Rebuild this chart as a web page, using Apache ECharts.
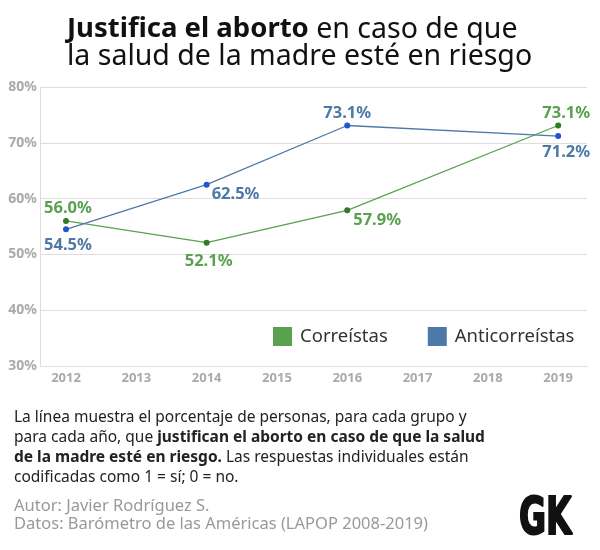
<!DOCTYPE html>
<html><head><meta charset="utf-8">
<script src="https://cdn.jsdelivr.net/npm/echarts@6/dist/echarts.min.js"></script>
<style>html,body{margin:0;padding:0;background:#fff}#c{width:600px;height:550px}</style>
</head><body><div id="c"></div>
<script>
const years = [2012, 2014, 2016, 2019];
const correistas = [56.0, 52.1, 57.9, 73.1];
const anticorreistas = [54.5, 62.5, 73.1, 71.2];
const xTickLabels = [2012, 2013, 2014, 2015, 2016, 2017, 2018, 2019];
const seriesNames = ['Correístas', 'Anticorreístas'];

const F = 'Noto Sans';
const green = '#59a14f', blue = '#4e79a7';
const labelPos = {
  c: [{position:'top', offset:[2,4]}, {position:'bottom', offset:[2,2]}, {position:'right', offset:[-2,10]}, {position:'top', offset:[8,4]}],
  a: [{position:'bottom', offset:[2,0]}, {position:'right', offset:[-3,10]}, {position:'top', offset:[0,4]}, {position:'bottom', offset:[8,0]}]
};
function mk(vals, pos) {
  return vals.map((v,i)=>({value:[years[i], v], label:Object.assign({show:true}, pos[i])}));
}
const chart = echarts.init(document.getElementById('c'));
chart.setOption({
  animation:false,
  grid:{left:40, right:13, top:87, bottom:184},
  xAxis:{type:'value', min:2011.63, max:2019.41,
    axisLine:{show:true, lineStyle:{color:'#ddd'}}, axisTick:{show:false},
    splitLine:{show:false},
    axisLabel:{customValues:xTickLabels, formatter:v=>String(v), color:'#aaa', fontFamily:F, fontWeight:'bold', fontSize:13, margin:6}},
  yAxis:{type:'value', min:30, max:80, interval:10,
    axisLine:{show:true, lineStyle:{color:'#ddd'}}, axisTick:{show:false},
    splitLine:{lineStyle:{color:'#ddd', width:1}},
    axisLabel:{formatter:v=>v+'%', color:'#aaa', fontFamily:F, fontWeight:'bold', fontSize:14, margin:3}},
  legend:{left:273, top:327, padding:0, itemWidth:19, itemHeight:19, itemGap:40, icon:'rect',
    textStyle:{fontFamily:F, fontSize:18.5, color:'#333', padding:[0,0,0,3]},
    data:[{name:seriesNames[0], itemStyle:{color:green}}, {name:seriesNames[1], itemStyle:{color:blue}}]},
  series:[
    {name:seriesNames[0], type:'line', data:mk(correistas, labelPos.c), symbol:'circle', symbolSize:6,
      lineStyle:{color:green, width:1.3}, itemStyle:{color:'#2f7d22'},
      label:{formatter:p=>p.value[1].toFixed(1)+'%', color:green, fontFamily:F, fontWeight:'bold', fontSize:16.5}},
    {name:seriesNames[1], type:'line', data:mk(anticorreistas, labelPos.a), symbol:'circle', symbolSize:6,
      lineStyle:{color:blue, width:1.3}, itemStyle:{color:'#2255cc'},
      label:{formatter:p=>p.value[1].toFixed(1)+'%', color:blue, fontFamily:F, fontWeight:'bold', fontSize:16.5}}
  ],
  graphic:[
    {type:'text', left:67, top:15, style:{
      text:'{b|Justifica el aborto}{r| en caso de que}\n{r|la salud de la madre esté en riesgo}',
      rich:{b:{fontFamily:F, fontWeight:'bold', fontSize:27.5, fill:'#111', lineHeight:27},
            r:{fontFamily:F, fontSize:28.5, fill:'#111', lineHeight:27}}}},
    {type:'text', left:14, top:410, style:{
      text:'{r|La línea muestra el porcentaje de personas, para cada grupo y}\n{r|para cada año, que }{b|justifican el aborto en caso de que la salud}\n{b|de la madre esté en riesgo.}{r| Las respuestas individuales están}\n{r|codificadas como 1 = sí; 0 = no.}',
      rich:{b:{fontFamily:F, fontWeight:'bold', fontSize:15.5, fill:'#222', lineHeight:20},
            r:{fontFamily:F, fontSize:15.5, fill:'#222', lineHeight:20}}}},
    {type:'text', left:14, top:497, style:{
      text:'Autor: Javier Rodríguez S.\nDatos: Barómetro de las Américas (LAPOP 2008-2019)',
      fontFamily:F, fontSize:16.5, fill:'#999', lineHeight:18}},
    {type:'text', x:519, y:495, scaleX:0.72, style:{
      text:'GK', fontFamily:'DejaVu Sans Condensed', fontWeight:'bold', fontSize:51, fill:'#111', stroke:'#111', lineWidth:2}}
  ]
});
</script></body></html>
